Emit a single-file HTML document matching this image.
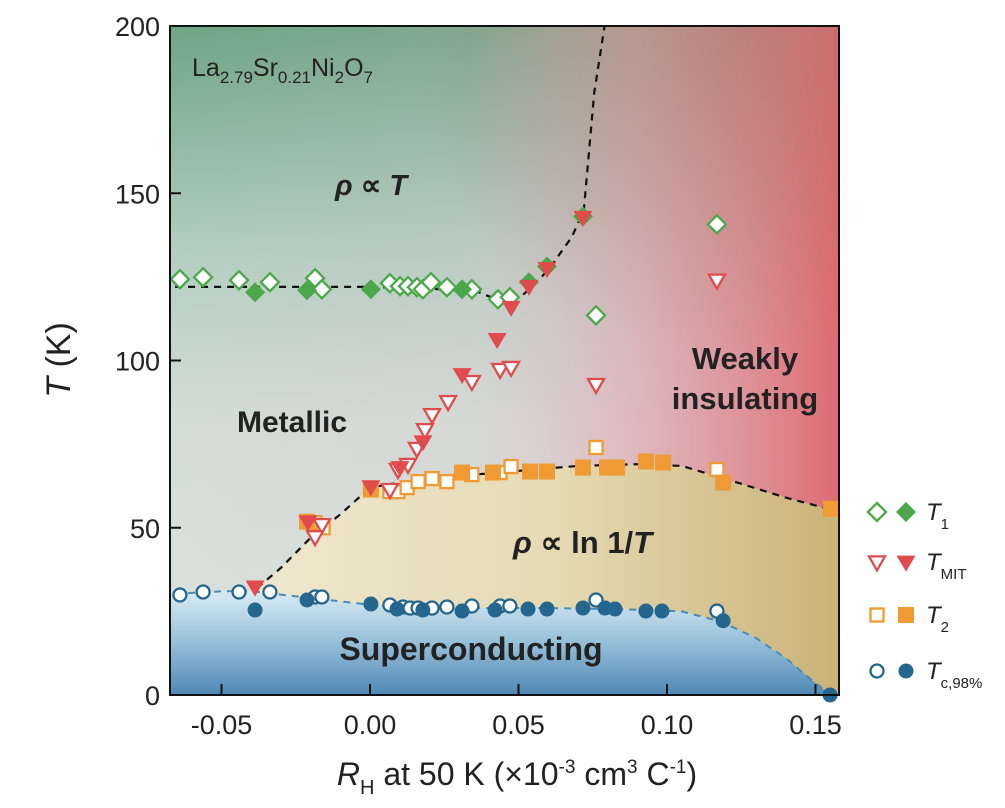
<!DOCTYPE html>
<html><head><meta charset="utf-8"><style>
html,body{margin:0;padding:0;background:#fff;}
svg{display:block;font-family:"Liberation Sans",Arial,sans-serif;}
</style></head><body>
<svg id="chart" width="1005" height="808" viewBox="0 0 1005 808" xmlns="http://www.w3.org/2000/svg">
<defs>
  <linearGradient id="gGreen" x1="0" y1="0" x2="0" y2="1">
    <stop offset="0" stop-color="#6ea585"/>
    <stop offset="0.35" stop-color="#b5cfc2"/>
    <stop offset="0.6" stop-color="#d3ddd7"/>
    <stop offset="1" stop-color="#dae2dc"/>
  </linearGradient>
  <linearGradient id="gRed" x1="0" y1="0" x2="1" y2="0">
    <stop offset="0" stop-color="#e8b8c0" stop-opacity="0"/>
    <stop offset="0.45" stop-color="#e6c2cb" stop-opacity="0.15"/>
    <stop offset="0.7" stop-color="#e3a7b0" stop-opacity="0.7"/>
    <stop offset="1" stop-color="#de6a72" stop-opacity="1"/>
  </linearGradient>
  <radialGradient id="gRedTop" cx="0.85" cy="0" r="0.5" gradientUnits="objectBoundingBox">
    <stop offset="0" stop-color="#a07060" stop-opacity="0.4"/>
    <stop offset="1" stop-color="#a07060" stop-opacity="0"/>
  </radialGradient>
  <linearGradient id="gBeige" x1="0" y1="0" x2="1" y2="0">
    <stop offset="0" stop-color="#efe7cf"/>
    <stop offset="0.5" stop-color="#e6dab4"/>
    <stop offset="1" stop-color="#c9b276"/>
  </linearGradient>
  <linearGradient id="gBlue" x1="0" y1="0" x2="0" y2="1">
    <stop offset="0" stop-color="#d9ebf3"/>
    <stop offset="0.45" stop-color="#9cc4dc"/>
    <stop offset="1" stop-color="#5088b4"/>
  </linearGradient>
  <clipPath id="plotClip"><rect x="170" y="26" width="669" height="669"/></clipPath>
</defs>
<g id="bg" clip-path="url(#plotClip)"></g>
<g id="lines" clip-path="url(#plotClip)"></g>
<g id="labels-in">
  <text x="192" y="76" font-size="25" fill="#222">La<tspan font-size="17" dy="7">2.79</tspan><tspan dy="-7">Sr</tspan><tspan font-size="17" dy="7">0.21</tspan><tspan dy="-7">Ni</tspan><tspan font-size="17" dy="7">2</tspan><tspan dy="-7">O</tspan><tspan font-size="17" dy="7">7</tspan></text>
  <text x="335" y="195" font-size="29" font-weight="bold" fill="#222"><tspan font-style="italic">ρ</tspan> ∝ <tspan font-style="italic">T</tspan></text>
  <text x="292" y="432" font-size="30" font-weight="bold" fill="#222" text-anchor="middle">Metallic</text>
  <text x="745" y="369" font-size="31" font-weight="bold" fill="#222" text-anchor="middle">Weakly</text>
  <text x="745" y="409" font-size="31" font-weight="bold" fill="#222" text-anchor="middle">insulating</text>
  <text x="513" y="553" font-size="31" font-weight="bold" fill="#222"><tspan font-style="italic">ρ</tspan> ∝ ln 1/<tspan font-style="italic">T</tspan></text>
  <text x="471" y="660" font-size="32" font-weight="bold" fill="#222" text-anchor="middle">Superconducting</text>
</g>
<g id="marks"></g>
<rect x="170" y="26" width="669" height="669" fill="none" stroke="#111" stroke-width="2"/>
<g id="axes"></g>
<text transform="translate(70,360) rotate(-90)" font-size="34" text-anchor="middle" fill="#222"><tspan font-style="italic">T</tspan> (K)</text>
<text x="517" y="785" font-size="32" text-anchor="middle" fill="#222"><tspan font-style="italic">R</tspan><tspan font-size="20" dy="9">H</tspan><tspan dy="-9"> at 50 K (×10</tspan><tspan font-size="19" dy="-12">-3</tspan><tspan dy="12"> cm</tspan><tspan font-size="19" dy="-12">3</tspan><tspan dy="12"> C</tspan><tspan font-size="19" dy="-12">-1</tspan><tspan dy="12">)</tspan></text>
<g id="legend"></g>
</svg>
<script>
// ---- data ----
const t1OpenX = [-0.0640,-0.0562,-0.0441,-0.0337,-0.0185,-0.0162,0.0067,0.0101,0.0128,0.0158,0.0178,0.0205,0.0259,0.0343,0.0431,0.0471,0.0761,0.1168];
const t1OpenY = [124.3,124.9,124.0,123.4,124.6,121.3,123.1,122.2,122.2,121.9,121.3,123.4,121.9,121.3,118.3,118.9,113.5,140.7];
const t1FillX = [-0.0387,-0.0212,0.0003,0.0310,0.0535,0.0596,0.0717];
const t1FillY = [120.4,121.0,121.3,121.3,123.4,128.1,143.1];
const tmitOpenX = [-0.0162,-0.0185,0.0067,0.0094,0.0128,0.0158,0.0185,0.0209,0.0263,0.0343,0.0438,0.0475,0.0761,0.1168];
const tmitOpenY = [50.9,47.3,61.4,67.4,68.9,73.7,79.3,83.8,87.7,93.7,97.3,97.9,92.8,124.0];
const tmitFillX = [-0.0387,-0.0209,0.0003,0.0101,0.0178,0.0310,0.0428,0.0475,0.0535,0.0596,0.0717];
const tmitFillY = [32.3,51.8,62.3,68.0,75.7,95.8,106.3,115.9,122.2,127.5,142.8];
const t2OpenX = [-0.0185,-0.0158,0.0067,0.0094,0.0125,0.0162,0.0209,0.0259,0.0343,0.0438,0.0475,0.0761,0.1168];
const t2OpenY = [51.5,50.0,60.8,60.8,62.0,63.8,64.7,63.8,65.9,66.5,68.3,74.0,67.4];
const t2FillX = [-0.0212,0.0003,0.0310,0.0414,0.0539,0.0596,0.0717,0.0798,0.0832,0.0929,0.0987,0.1189,0.1552];
const t2FillY = [51.8,61.4,66.5,66.5,66.8,66.8,68.0,68.0,68.0,69.8,69.5,63.5,55.7];
const tcOpenX = [-0.0640,-0.0562,-0.0441,-0.0337,-0.0185,-0.0162,0.0067,0.0111,0.0135,0.0162,0.0209,0.0259,0.0343,0.0438,0.0471,0.0761,0.1168];
const tcOpenY = [29.9,30.8,30.8,30.8,29.3,29.3,26.9,26.3,26.0,26.0,26.0,26.3,26.6,26.6,26.6,28.4,25.1];
const tcFillX = [-0.0387,-0.0212,0.0003,0.0091,0.0178,0.0310,0.0421,0.0532,0.0596,0.0717,0.0791,0.0825,0.0929,0.0983,0.1189,0.1549];
const tcFillY = [25.4,28.4,27.2,25.7,25.4,25.1,25.4,25.7,25.7,26.0,26.0,25.7,25.1,25.1,22.2,0];
// guide curves
const t1LineX = [-0.07,-0.04,0.0,0.035,0.042,0.047,0.052,0.06,0.068,0.072,0.0735,0.0755,0.079];
const t1LineY = [122,122,122,121,118.5,118,120,127,137,145,160,180,200];
const t2LineX = [-0.038,-0.03,-0.02,-0.01,0.0,0.01,0.03,0.05,0.07,0.09,0.105,0.12,0.14,0.157];
const t2LineY = [32,38,47,54,62,63.5,65.5,67,68.5,69,68.5,64.5,59,55];
const tcLineX = [-0.07,-0.05,-0.04,-0.02,0.0,0.03,0.06,0.09,0.105,0.118,0.13,0.14,0.148,0.155];
const tcLineY = [30,31,31,29,27,26,26,25.5,25,22,17,11,5,0];
const xTicks = [-0.05,0.00,0.05,0.10,0.15];
const xTickLabels = ["-0.05","0.00","0.05","0.10","0.15"];
const yTicks = [0,50,100,150,200];
const yTickLabels = ["0","50","100","150","200"];

// ---- scales ----
const X0 = 370, XS = 2970;
const Y0 = 695, YS = 669/200;
function sx(v){return X0 + v*XS;}
function sy(t){return Y0 - t*YS;}
const NS = "http://www.w3.org/2000/svg";
function mk(tag, attrs, parent){
  const e = document.createElementNS(NS, tag);
  for (const k in attrs) e.setAttribute(k, attrs[k]);
  parent.appendChild(e);
  return e;
}
function pathFrom(xs, ys){
  return xs.map((x,i)=>(i?"L":"M")+sx(x).toFixed(1)+","+sy(ys[i]).toFixed(1)).join(" ");
}

// ---- backgrounds ----
const bg = document.getElementById('bg');
let r1 = mk('rect',{x:170,y:26,width:669,height:669,fill:'url(#gGreen)'},bg);


let r2 = mk('rect',{x:170,y:26,width:669,height:669,fill:'url(#gRed)'},bg);


let r3 = mk('rect',{x:170,y:26,width:669,height:669,fill:'url(#gRedTop)'},bg);


let beige = mk('path',{d:pathFrom(t2LineX,t2LineY)+" L"+sx(0.16)+","+sy(55)+" L"+sx(0.16)+","+Y0+" L"+sx(-0.038)+","+Y0+" Z",fill:'url(#gBeige)'},bg);


let blue = mk('path',{d:pathFrom(tcLineX,tcLineY)+" L"+sx(0.16)+","+Y0+" L"+sx(-0.07)+","+Y0+" Z",fill:'url(#gBlue)'},bg);



// ---- guide lines ----
const lines = document.getElementById('lines');
let l1 = mk('path',{d:pathFrom(t1LineX,t1LineY),fill:'none',stroke:'#111','stroke-width':2.2,'stroke-dasharray':'7,6'},lines);


let l2 = mk('path',{d:pathFrom(t2LineX,t2LineY),fill:'none',stroke:'#111','stroke-width':2.2,'stroke-dasharray':'7,6'},lines);


let l3 = mk('path',{d:pathFrom(tcLineX,tcLineY),fill:'none',stroke:'#4a8ab8','stroke-width':2,'stroke-dasharray':'7,6'},lines);



// ---- markers ----
const GREEN='#4aa84a', RED='#e04b4e', ORANGE='#ef9a32', BLUE='#25668f';
function marker(type, cx, cy, color, filled, parent){
  const fill = filled ? color : '#fff';
  const sw = filled ? 0 : 2.3;
  let e;
  if (type==='diamond'){
    const r = filled?10:9;
    e = mk('polygon',{points:`${cx},${cy-r} ${cx+r},${cy} ${cx},${cy+r} ${cx-r},${cy}`,fill:fill,stroke:color,'stroke-width':sw},parent);
  } else if (type==='tri'){
    const w = filled?9.5:8, h = filled?16:14;
    e = mk('polygon',{points:`${cx-w},${cy-h*0.4} ${cx+w},${cy-h*0.4} ${cx},${cy+h*0.6}`,fill:fill,stroke:color,'stroke-width':sw},parent);
  } else if (type==='square'){
    const s = filled?16:13;
    e = mk('rect',{x:cx-s/2,y:cy-s/2,width:s,height:s,fill:fill,stroke:color,'stroke-width':sw},parent);
  } else {
    const r = filled?7.5:6.5;
    e = mk('circle',{cx:cx,cy:cy,r:r,fill:fill,stroke:color,'stroke-width':sw},parent);
  }
  return e;
}
const marks = document.getElementById('marks');
function series(xs, ys, type, color, filled, name){
  const g = mk('g',{},marks);
  
  
  xs.forEach((x,i)=>{
    const m = marker(type, sx(x), sy(ys[i]), color, filled, g);
    
    
  });
}
series(t2OpenX, t2OpenY, 'square', ORANGE, false, 't2-open-series');
series(t2FillX, t2FillY, 'square', ORANGE, true, 't2-filled-series');
series(tcOpenX, tcOpenY, 'circle', BLUE, false, 'tc-open-series');
series(tcFillX, tcFillY, 'circle', BLUE, true, 'tc-filled-series');
series(t1OpenX, t1OpenY, 'diamond', GREEN, false, 't1-open-series');
series(t1FillX, t1FillY, 'diamond', GREEN, true, 't1-filled-series');
series(tmitOpenX, tmitOpenY, 'tri', RED, false, 'tmit-open-series');
series(tmitFillX, tmitFillY, 'tri', RED, true, 'tmit-filled-series');

// ---- axes ----
const axes = document.getElementById('axes');
xTicks.forEach((v,i)=>{
  const t = mk('line',{x1:sx(v),x2:sx(v),y1:Y0,y2:Y0-11,stroke:'#111','stroke-width':2},axes);
  
  
  const lb = mk('text',{x:sx(v),y:734,'font-size':27,'text-anchor':'middle',fill:'#222'},axes);
  lb.textContent = xTickLabels[i];
  
  
});
yTicks.forEach((v,i)=>{
  const t = mk('line',{x1:170,x2:181,y1:sy(v),y2:sy(v),stroke:'#111','stroke-width':2},axes);
  
  
  const lb = mk('text',{x:160,y:sy(v)+10,'font-size':27,'text-anchor':'end',fill:'#222'},axes);
  lb.textContent = yTickLabels[i];
  
  
});

// ---- legend ----
const legend = document.getElementById('legend');
const legTypes = ['diamond','tri','square','circle'];
const legColors = [GREEN, RED, ORANGE, BLUE];
const legSubs = ['1','MIT','2','c,98%'];
const legY = [512, 562, 615, 671];
legTypes.forEach((tp,i)=>{
  const g = mk('g',{},legend);
  
  
  marker(tp, 877, legY[i], legColors[i], false, g);
  marker(tp, 906, legY[i], legColors[i], true, g);
  const t = mk('text',{x:926,y:legY[i]+8,'font-size':24,fill:'#222'},g);
  const a = mk('tspan',{'font-style':'italic'},t); a.textContent='T';
  const b = mk('tspan',{'font-size':15,dy:9}, t); b.textContent=legSubs[i];
});
</script>
</body></html>
